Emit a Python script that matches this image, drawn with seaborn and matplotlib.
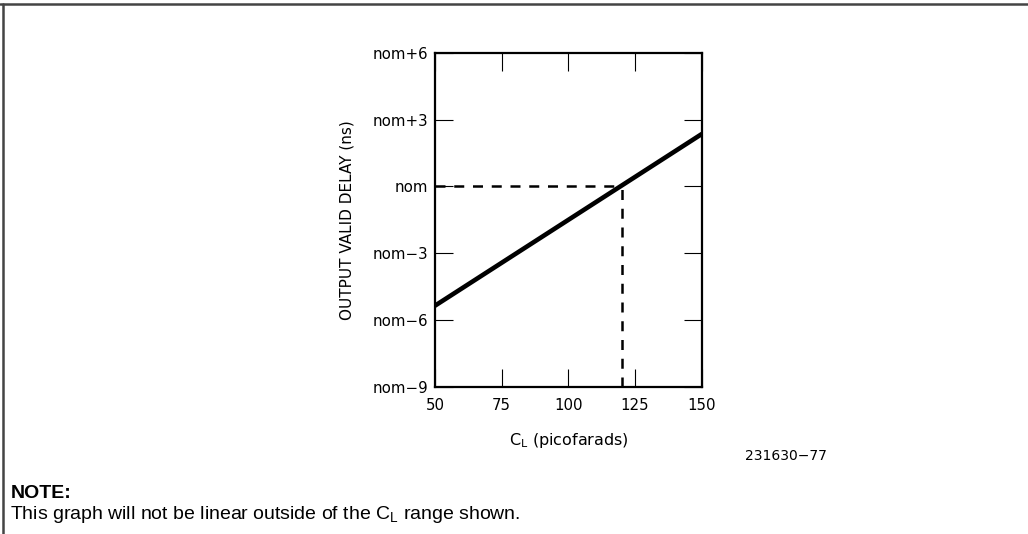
import matplotlib
matplotlib.use("Agg")
import matplotlib.pyplot as plt
import matplotlib.lines as mlines
import seaborn as sns
import pandas as pd

# Data
cl_pf = [50, 150]
delay_ns = [-5.35, 2.35]
nominal_cl = 120
nominal_delay = 0
x_ticks = [50, 75, 100, 125, 150]
y_ticks = [-9, -6, -3, 0, 3, 6]
y_tick_labels = ["nom\u22129", "nom\u22126", "nom\u22123", "nom", "nom+3", "nom+6"]

sns.set_style("white")
plt.rcParams['font.family'] = ['DejaVu Sans']
plt.rcParams['text.color'] = 'black'
plt.rcParams['axes.labelcolor'] = 'black'
plt.rcParams['xtick.color'] = 'black'
plt.rcParams['ytick.color'] = 'black'

fig = plt.figure(figsize=(10.28, 5.34), dpi=100)
ax = fig.add_axes([0.4232, 0.2753, 0.2594, 0.626])

df = pd.DataFrame({"cl": cl_pf, "delay": delay_ns})
sns.lineplot(data=df, x="cl", y="delay", ax=ax, color="black", linewidth=3.3)

ax.plot([cl_pf[0], nominal_cl], [nominal_delay, nominal_delay], color="black",
        linewidth=1.8, linestyle=(0, (4, 3.5)))
ax.plot([nominal_cl, nominal_cl], [y_ticks[0], nominal_delay], color="black",
        linewidth=1.8, linestyle=(0, (4, 3.5)))

ax.set_xlim(x_ticks[0], x_ticks[-1])
ax.set_ylim(y_ticks[0], y_ticks[-1])
ax.set_xticks(x_ticks)
ax.set_yticks(y_ticks)
ax.set_yticklabels(y_tick_labels)
ax.tick_params(axis="both", direction="in", length=13, width=0.8, color="black",
               labelsize=10.8, labelcolor="black",
               top=True, right=True, bottom=True, left=True)
ax.tick_params(axis="y", pad=5)
ax.tick_params(axis="x", pad=8)
for s in ax.spines.values():
    s.set_visible(True)
    s.set_color("black")
    s.set_linewidth(1.6)

ax.set_xlabel(r"C$_\mathregular{L}$ (picofarads)", fontsize=11.5, labelpad=13)
ax.set_ylabel("OUTPUT VALID DELAY (ns)", fontsize=11, labelpad=13)

fig.text(0.725, 0.147, "231630\u221277", fontsize=10, ha="left", va="center")
fig.text(0.010, 0.075, "NOTE:", fontsize=14, fontweight="bold",
         family=["Liberation Sans"], ha="left", va="center")
fig.text(0.010, 0.037, r"This graph will not be linear outside of the C$_\mathregular{L}$ range shown.",
         fontsize=14, family=["Liberation Sans"], ha="left", va="center")

# page frame
fig.add_artist(mlines.Line2D([0, 1], [0.992, 0.992], transform=fig.transFigure,
                             color="#444444", linewidth=1.8))
fig.add_artist(mlines.Line2D([0.0025, 0.0025], [0, 0.992], transform=fig.transFigure,
                             color="#444444", linewidth=1.8))

fig.savefig("out.png", dpi=100)
